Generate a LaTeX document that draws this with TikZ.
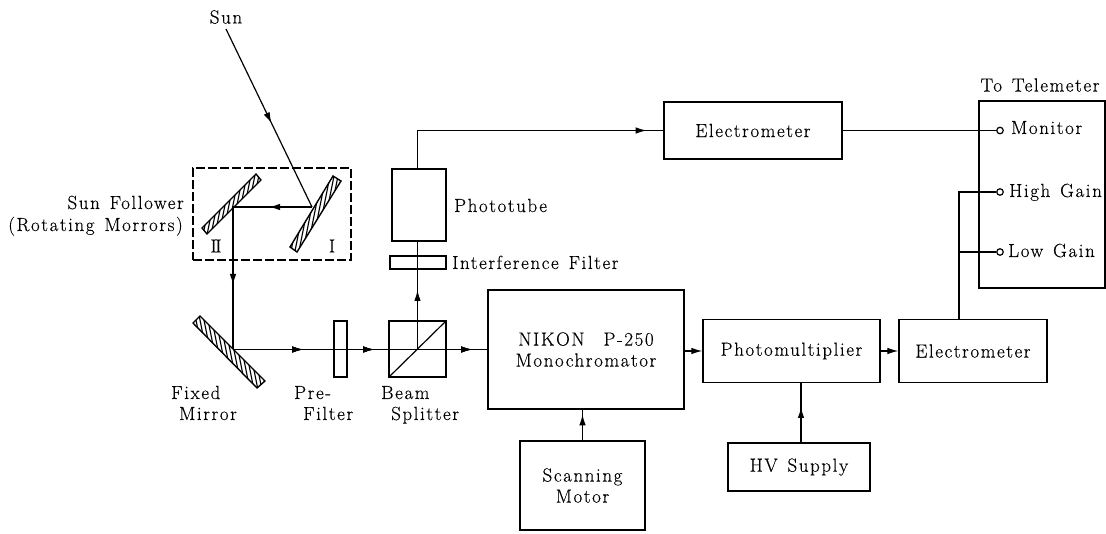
\documentclass[tikz,border=0pt]{standalone}
\usepackage{fontspec}
\setmainfont{Latin Modern Roman}[LetterSpace=8.3,WordSpace=1.35,FakeBold=0.2]
\usetikzlibrary{arrows.meta,decorations.markings}
\tikzset{
  box/.style={draw,line width=1.3pt,inner sep=0pt,align=center,font=\fontsize{19}{22}\selectfont},
  lbl/.style={inner sep=0pt,font=\fontsize{19}{20}\selectfont},
  conn/.style={line width=1.2pt},
  arrowat/.style={postaction={decorate},decoration={markings,mark=at position #1 with {\arrow{Latex[length=11pt,width=6.5pt]}}}},
  endarrow/.style={-{Latex[length=11pt,width=6.5pt]}},
  term/.style={circle,draw,line width=1.2pt,fill=white,minimum size=6.5pt,inner sep=0pt},
  mirrorframe/.style={draw,line width=1.4pt},
  hatchline/.style={line width=1.1pt},
}
\begin{document}
\begin{tikzpicture}[x=1pt,y=-1pt]
\useasboundingbox (0,0) rectangle (1106,534);
\fill[white] (0,0) rectangle (1106,534);

% mirrors
\begin{scope}
  \clip (256,174) -- (261,180) -- (207,234) -- (202,228) -- cycle;
  \foreach \k in {190,194,...,280}{\draw[hatchline] (\k,240) -- ++(14,-70) ;}
\end{scope}
\draw[mirrorframe] (256,174) -- (261,180) -- (207,234) -- (202,228) -- cycle;
\begin{scope}
  \clip (333,176) -- (341,181) -- (297,252) -- (290,247) -- cycle;
  \foreach \k in {270,274,...,350}{\draw[hatchline] (\k,256) -- ++(17,-85);}
\end{scope}
\draw[mirrorframe] (333,176) -- (341,181) -- (297,252) -- (290,247) -- cycle;
\begin{scope}
  \clip (200,316) -- (193,323) -- (257,388) -- (265,381) -- cycle;
  \foreach \k in {170,174,...,270}{\draw[hatchline] (\k,310) -- ++(16,80);}
\end{scope}
\draw[mirrorframe] (200,316) -- (193,323) -- (257,388) -- (265,381) -- cycle;

% boxes
\node[box,minimum width=178pt,minimum height=57pt] (elA) at (753,130.5) {Electrometer};
\node[box,minimum width=54pt,minimum height=72pt] (pt) at (419,205) {};
\node[box,minimum width=56pt,minimum height=13pt] (ifl) at (418,262.5) {};
\node[box,minimum width=57pt,minimum height=56pt] (bs) at (417.5,349) {};
\node[box,minimum width=13pt,minimum height=56pt] (pf) at (340.5,349) {};
\node[box,minimum width=196pt,minimum height=119pt] (mono) at (586,349.5) {NIKON\hspace{1em}P-250\\[-1pt]Monochromator};
\node[box,minimum width=177pt,minimum height=63pt] (pm) at (791.5,351) {Photomultiplier};
\node[box,minimum width=148pt,minimum height=63pt] (elB) at (973,351) {Electrometer};
\node[box,minimum width=125pt,minimum height=89pt] (mot) at (582.5,485.5) {Scanning\\[-1pt]Motor};
\node[box,minimum width=142pt,minimum height=48pt] (hv) at (799,467) {HV Supply};
\node[box,minimum width=126pt,minimum height=187pt] (tm) at (1042,194.5) {};
\node[draw,line width=1.1pt,dash pattern=on 9pt off 3pt,inner sep=0pt,minimum width=158pt,minimum height=92pt] (sf) at (272,214) {};

% terminals
\node[term] (mon) at (1000,130.5) {};
\node[term] (hi) at (1000,192) {};
\node[term] (lo) at (1000,252) {};

% hit points
\coordinate (sun) at (226,29);
\coordinate (mI) at (312,207);
\coordinate (mII) at (233,207);
\coordinate (mF) at (233,349.5);
\coordinate (tapB) at (959,320);
\coordinate (tapH) at (801,443);

% beam path
\draw[conn,arrowat=104.7pt] (sun) -- (mI);
\draw[conn,arrowat=43pt] (mI) -- (mII);
\draw[conn,arrowat=78pt] (mII) -- (mF);
\draw[conn,arrowat=70pt,arrowat=141pt,arrowat=239pt] (mF) -- (mono.west);
\draw[conn] (bs.south west) -- (bs.north east);
\draw[conn,arrowat=59pt] (bs.center) -- (bs.center |- pt.south);
\draw[conn,arrowat=267pt] (bs.center |- pt.north) |- (elA.west);
\draw[conn,endarrow] (mono.east |- pm.west) -- (pm.west);
\draw[conn,endarrow] (pm.east) -- (elB.west);
\draw[conn,arrowat=26pt] (mot.north) -- (mot.north |- mono.south);
\draw[conn,arrowat=36pt] (tapH) -- (tapH |- pm.south);
\draw[conn] (elA.east) -- (mon.west);
\draw[conn] (tapB) |- (hi.west);
\draw[conn] (tapB |- lo.west) -- (lo.west);

% labels
\node[lbl] (lsun) at (226,17) {Sun};
\node[lbl,anchor=base east] (lf1) at (184,209) {Sun Follower};
\node[lbl,anchor=base east] (lf2) at (183,231) {(Rotating Morrors)};
\node[lbl] (lII) at (216,246) {I\kern-1.5ptI};
\node[lbl] (lI) at (332,246) {I};
\node[lbl,anchor=base west] (lfm1) at (171,399) {Fixed};
\node[lbl,anchor=base west] (lfm2) at (179,420) {Mirror};
\node[lbl,anchor=base west] (lpf1) at (294,399) {Pre-};
\node[lbl,anchor=base west] (lpf2) at (303,420) {Filter};
\node[lbl,anchor=base west] (lbs1) at (381,399) {Beam};
\node[lbl,anchor=base west] (lbs2) at (391,420) {Splitter};
\node[lbl,anchor=base west] (lpt) at (454,212) {Phototube};
\node[lbl,anchor=base west] (lif) at (452,269) {Interference Filter};
\node[lbl] (ltm) at (1040,85) {To Telemeter};
\node[lbl,anchor=base west] (lmon) at (1011,134) {Monitor};
\node[lbl,anchor=base west] (lhi) at (1009,197) {High Gain};
\node[lbl,anchor=base west] (llo) at (1008,257) {Low Gain};
\end{tikzpicture}
\end{document}
